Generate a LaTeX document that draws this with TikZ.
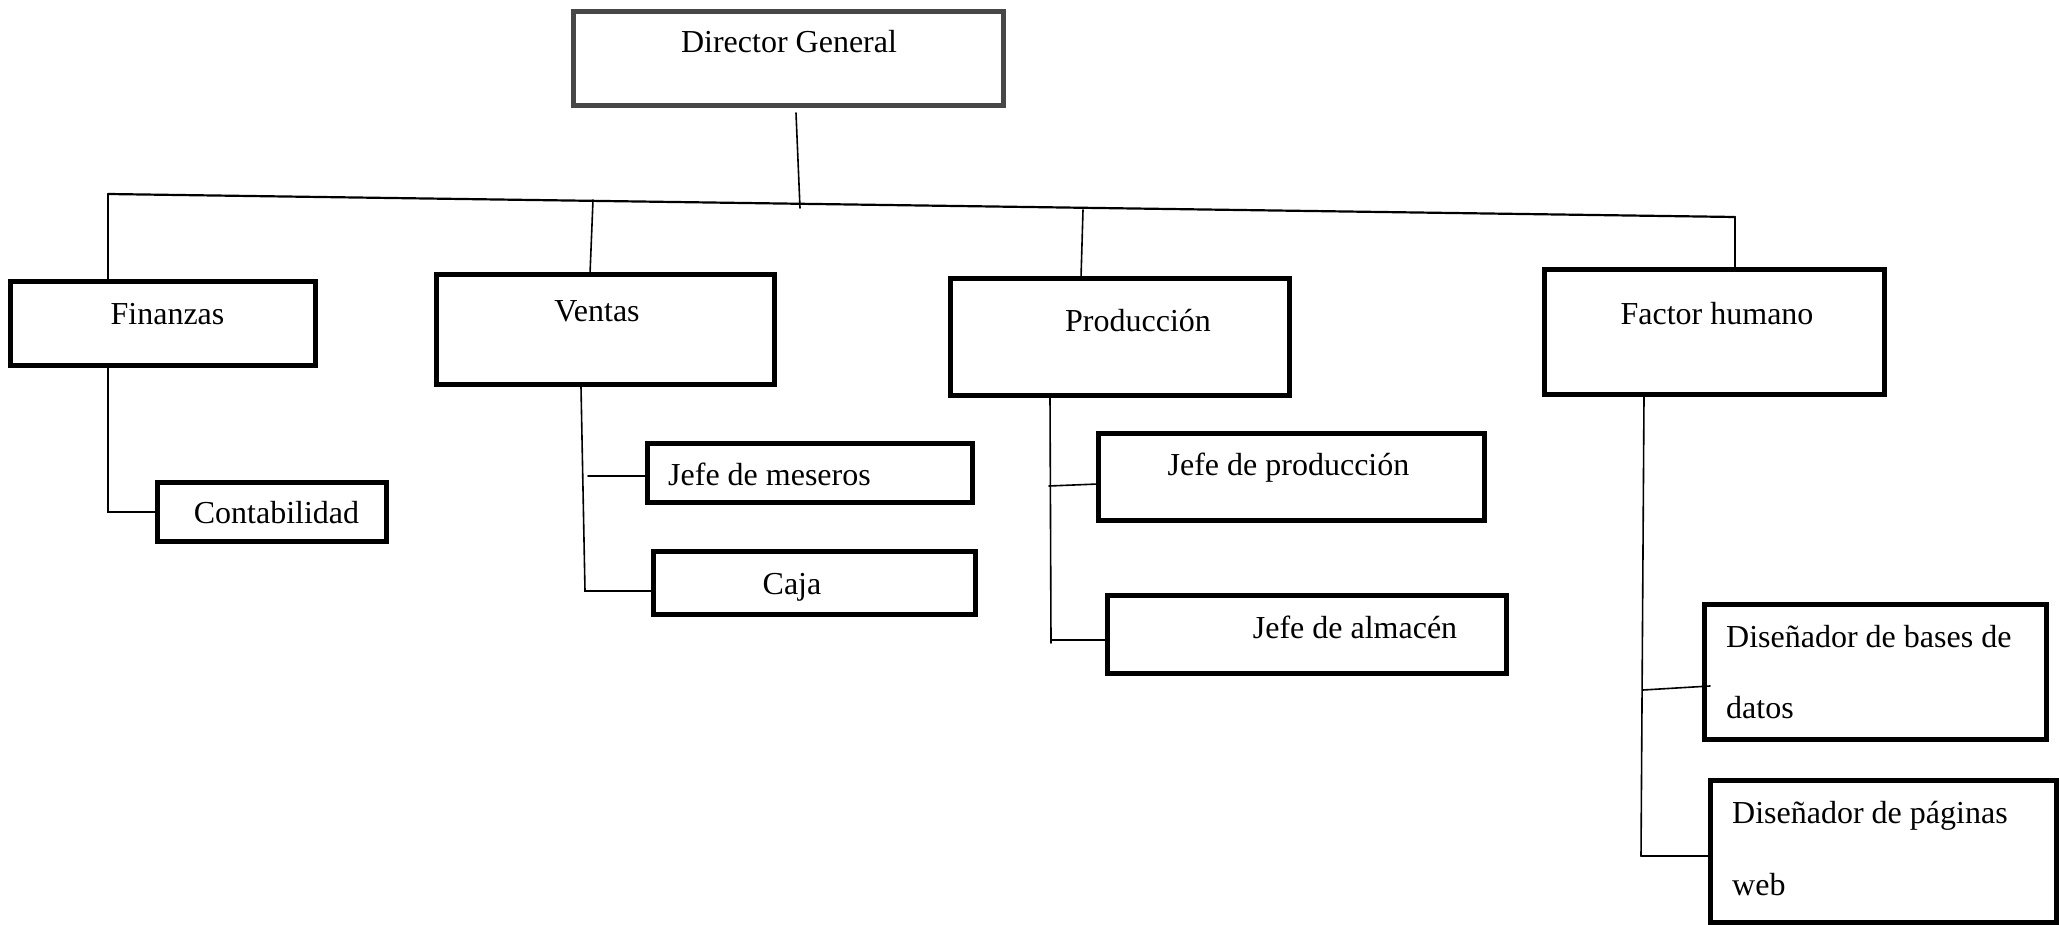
\documentclass[tikz,border=0pt]{standalone}
\usepackage{fontspec}
\setmainfont{Liberation Serif}
\begin{document}
\begin{tikzpicture}[x=1pt,y=-1pt,
  box/.style={draw=black,line width=5pt,rectangle,inner sep=0pt,fill=white},
  dgbox/.style={box,draw=black!72},
  lbl/.style={inner sep=0pt,font=\fontsize{32}{38}\selectfont},
  conn/.style={line width=1.6pt,line cap=round},
  bar/.style={line width=2.2pt,line cap=round}]
\useasboundingbox (0,0) rectangle (2059,925);
% boxes
\node[dgbox,minimum width=430pt,minimum height=94pt] (dg) at (788.5,58.5) {};
\node[box,minimum width=305pt,minimum height=84pt] (fin) at (163,323.5) {};
\node[box,minimum width=338pt,minimum height=110pt] (ven) at (605.5,329.5) {};
\node[box,minimum width=339pt,minimum height=117pt] (pro) at (1120,337) {};
\node[box,minimum width=340pt,minimum height=125pt] (fh) at (1714.5,332) {};
\node[box,minimum width=229pt,minimum height=59pt] (con) at (272,512) {};
\node[box,minimum width=325pt,minimum height=59pt] (jm) at (810,473) {};
\node[box,minimum width=322pt,minimum height=63pt] (caja) at (814.5,583) {};
\node[box,minimum width=386pt,minimum height=87pt] (jp) at (1291.5,477) {};
\node[box,minimum width=399pt,minimum height=78pt] (ja) at (1307,634.5) {};
\node[box,minimum width=342pt,minimum height=135pt] (dbd) at (1875.5,672) {};
\node[box,minimum width=346pt,minimum height=142pt] (dpw) at (1883.5,851.5) {};
% texts
\node[lbl,anchor=base] (tdg) at (789,53) {Director General};
\node[lbl,anchor=base] (tfin) at (167.5,324) {Finanzas};
\node[lbl,anchor=base] (tven) at (597,322) {Ventas};
\node[lbl,anchor=base] (tpro) at (1138,331) {Producción};
\node[lbl,anchor=base] (tfh) at (1717,325) {Factor humano};
\node[lbl,anchor=base] (tcon) at (276.5,523) {Contabilidad};
\node[lbl,anchor=base west] (tjm) at (668,485) {Jefe de meseros};
\node[lbl,anchor=base] (tcaja) at (792,594) {Caja};
\node[lbl,anchor=base] (tjp) at (1288.5,475) {Jefe de producción};
\node[lbl,anchor=base] (tja) at (1355,638) {Jefe de almacén};
\node[lbl,anchor=base west] (tdbd1) at (1726,647) {Diseñador de bases de};
\node[lbl,anchor=base west] (tdbd2) at (1726,718) {datos};
\node[lbl,anchor=base west] (tdpw1) at (1732,823) {Diseñador de páginas};
\node[lbl,anchor=base west] (tdpw2) at (1732,895) {web};
% connector points
\coordinate (dgd) at (796,113);
\coordinate (dgb) at (800,208);
\coordinate (hL) at (108,194);
\coordinate (hR) at (1735,217);
\coordinate (vt) at (593,200);
\coordinate (vb) at (590,274);
\coordinate (pt) at (1083,210);
\coordinate (pb) at (1081,278);
\coordinate (vs) at (581,387);
\coordinate (vc) at (585,591);
\coordinate (jmc) at (588,476);
\coordinate (ps) at (1050,396);
\coordinate (pe) at (1051,643);
\coordinate (jpc) at (1049,486);
\coordinate (jpe) at (1098,484);
\coordinate (jac) at (1052,640);
\coordinate (fs) at (1644,396);
\coordinate (fe) at (1641,856);
\coordinate (dbc) at (1643,690);
\coordinate (dbe) at (1710,686);
% connectors
\draw[conn] (dgd) -- (dgb);
\draw[bar] (hL) -- (hR);
\draw[conn] (hL) -- (hL |- fin.north);
\draw[conn] (vt) -- (vb);
\draw[conn] (pt) -- (pb);
\draw[conn] (hR) -- (hR |- fh.north);
\draw[conn] (hL |- fin.south) -- (hL |- con.west) -- (con.west);
\draw[conn] (vs) -- (vc) -- (vc -| caja.west);
\draw[conn] (jmc) -- (jmc -| jm.west);
\draw[conn] (ps) -- (pe);
\draw[conn] (jpc) -- (jpe);
\draw[conn] (jac) -- (jac -| ja.west);
\draw[conn] (fs) -- (fe);
\draw[conn] (dbc) -- (dbe);
\draw[conn] (fe) -- (fe -| dpw.west);
\end{tikzpicture}
\end{document}
